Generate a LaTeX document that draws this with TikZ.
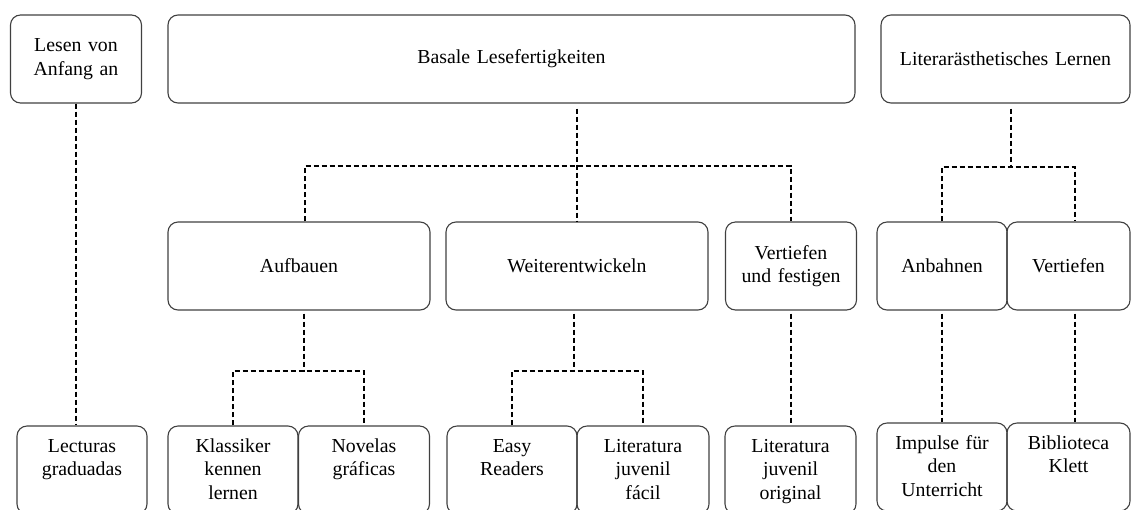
\documentclass[tikz,border=0pt]{standalone}
\usepackage{fontspec}
\setmainfont{Liberation Serif}
\usetikzlibrary{shapes,arrows}

\begin{document}
\begin{tikzpicture}[x=1pt, y=-1pt, semithick]
  \tikzstyle{box} = [rectangle, draw=black!75, line width=1.1pt, rounded corners=10pt,
    align=center, inner sep=0pt, minimum height=88pt,
    font=\fontsize{19.8}{23.5}\selectfont]
  \tikzstyle{leaf} = [box, text height=26pt, text depth=62pt]
  \tikzstyle{line} = [draw, line width=1.6pt, dash pattern=on 5.5pt off 2.5pt]

  \useasboundingbox (0,0) rectangle (1131,509);

  % Place nodes
  \node [box, text width=131pt] (lesen) at (76,59) {Lesen von\\Anfang an};
  \node [box, text width=687pt] (basale) at (511.5,59) {Basale Lesefertigkeiten};
  \node [box, text width=249pt] (literar) at (1005.5,59) {Literarästhetisches Lernen};

  \node [box, text width=262pt] (aufbauen) at (299,266) {Aufbauen};
  \node [box, text width=262pt] (weiter) at (577,266) {Weiterentwickeln};
  \node [box, text width=131pt] (vertfest) at (791,266) {Vertiefen\\und festigen};
  \node [box, text width=130pt] (anbahnen) at (942,266) {Anbahnen};
  \node [box, text width=123pt] (vertiefen) at (1068.5,266) {Vertiefen};

  \node [leaf, text width=130pt] (lecturas) at (82,470) {Lecturas\\graduadas};
  \node [leaf, text width=130pt] (klassiker) at (233,470) {Klassiker\\kennen\\lernen};
  \node [leaf, text width=131pt] (novelas) at (364,470) {Novelas\\gráficas};
  \node [leaf, text width=130pt] (easy) at (512,470) {Easy\\Readers};
  \node [leaf, text width=132pt] (litfacil) at (643,470) {Literatura\\juvenil\\fácil};
  \node [leaf, text width=131pt] (litorig) at (790.5,470) {Literatura\\juvenil\\original};
  \node [leaf, text width=130pt] (impulse) at (942,467) {Impulse für\\den\\Unterricht};
  \node [leaf, text width=123pt] (biblio) at (1068.5,467) {Biblioteca\\Klett};

  \coordinate (bjoin) at (577,166);
  \coordinate (ljoin) at (1011,167);
  \coordinate (ajoin) at (304,371);
  \coordinate (wjoin) at (574,371);

  % Draw edges
  \path [line] (lesen.south) -- (lesen.south |- lecturas.north);

  \path [line, shorten <=5pt] (basale.south -| bjoin) -- (weiter.north);
  \path [line] ([xshift=6pt]aufbauen.north) |- (bjoin) -| (vertfest.north);

  \path [line, shorten <=5pt] (literar.south -| ljoin) -- (ljoin);
  \path [line] (anbahnen.north) |- (ljoin) -| ([xshift=6.5pt]vertiefen.north);

  \path [line, shorten <=3pt] (aufbauen.south -| ajoin) -- (ajoin);
  \path [line] (klassiker.north) |- (ajoin) -| (novelas.north);

  \path [line, shorten <=3pt] (weiter.south -| wjoin) -- (wjoin);
  \path [line] (easy.north) |- (wjoin) -| (litfacil.north);

  \path [line, shorten <=3pt] (vertfest.south) -- (vertfest.south |- litorig.north);
  \path [line, shorten <=3pt] (anbahnen.south) -- (impulse.north);
  \path [line, shorten <=3pt] ([xshift=6.5pt]vertiefen.south) -- ([xshift=6.5pt]biblio.north);

\end{tikzpicture}
\end{document}
